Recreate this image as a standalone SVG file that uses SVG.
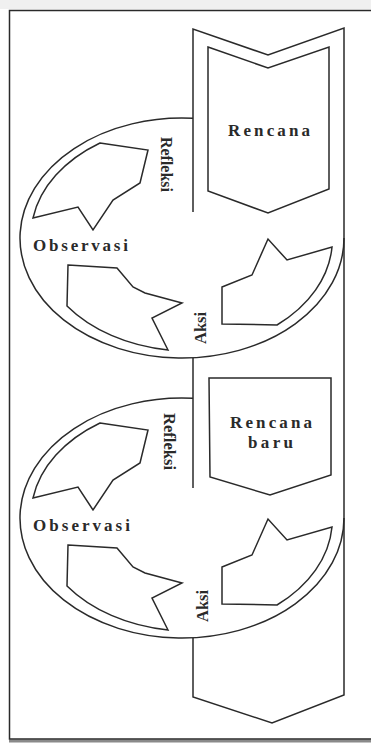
<svg xmlns="http://www.w3.org/2000/svg" width="371" height="744" viewBox="0 0 371 744">
<style>
.ln{fill:none;stroke:#2a2a2a;stroke-width:1.5;stroke-linejoin:miter}
.sh{fill:#fff;stroke:#2a2a2a;stroke-width:1.5;stroke-linejoin:miter}
.t{font-family:"Liberation Serif","DejaVu Serif",serif;font-weight:bold;fill:#2a2a2a}
</style>
<defs>
<g id="cycle">
<path class="sh" d="M100,143 L148,150 L140,183 L113,200 L93,230 L78,207 L33,218 A152,111 0 0 1 100,143 Z"/>
<path class="sh" d="M68,265 L117,268 L133,287 L145,293 L182,303 L152,318 L168,350 A152,111 0 0 1 67,306 Z"/>
<path class="sh" d="M222,287 L252,275 L268,239 L287,260 L332,247 A152,111 0 0 1 277,325 L222,324 Z"/>
</g>
</defs>
<rect x="0" y="0" width="371" height="744" fill="#fff"/>
<rect x="0" y="0" width="371" height="9" fill="#f0f0f0"/>
<g id="frame">
<line x1="9" y1="741" x2="371" y2="741" stroke="#8a8a8a" stroke-width="3"/>
<path class="ln" d="M371,10.5 L9.5,10.5 L9.5,739 L371,739" stroke-width="1.3"/>
</g>
<g id="connectors">
<path class="ln" d="M193,212 L193,29 L268,55 L344,28 L344,695 L272,723 L193,697 L193,638"/>
<path class="ln" d="M193,358 L193,488"/>
</g>
<g id="siklus1">
<path class="ln" d="M193,118.3 A162,120 0 1 0 344,238"/>
<use href="#cycle"/>
</g>
<g id="siklus2">
<path class="ln" d="M193,398.3 A162,120 0 1 0 344,518"/>
<use href="#cycle" transform="translate(0,280)"/>
</g>
<g id="rencana">
<path class="sh" d="M208,47 L268,68 L329,47 L329,189 L268,213 L208,191 Z"/>
<text class="t" x="269" y="136" font-size="17" text-anchor="middle" textLength="82" lengthAdjust="spacing">Rencana</text>
</g>
<g id="rencana-baru">
<path class="sh" d="M209,378 L331,378 L331,475 L270,495 L210,477 Z"/>
<text class="t" x="271" y="428" font-size="17" text-anchor="middle" textLength="82" lengthAdjust="spacing">Rencana</text>
<text class="t" x="270.5" y="448" font-size="17" text-anchor="middle" textLength="45" lengthAdjust="spacing">baru</text>
</g>
<g id="labels1">
<text class="t" x="33" y="251" font-size="17" textLength="95" lengthAdjust="spacing">Observasi</text>
<text class="t" font-size="16" transform="translate(161,137) rotate(90)" textLength="55" lengthAdjust="spacingAndGlyphs">Refleksi</text>
<text class="t" font-size="16" transform="translate(206,344) rotate(-90)" textLength="32" lengthAdjust="spacingAndGlyphs">Aksi</text>
</g>
<g id="labels2">
<text class="t" x="33" y="531" font-size="17" textLength="97" lengthAdjust="spacing">Observasi</text>
<text class="t" font-size="16" transform="translate(164,413) rotate(90)" textLength="57" lengthAdjust="spacingAndGlyphs">Refleksi</text>
<text class="t" font-size="16" transform="translate(208,622) rotate(-90)" textLength="32" lengthAdjust="spacingAndGlyphs">Aksi</text>
</g>
</svg>
